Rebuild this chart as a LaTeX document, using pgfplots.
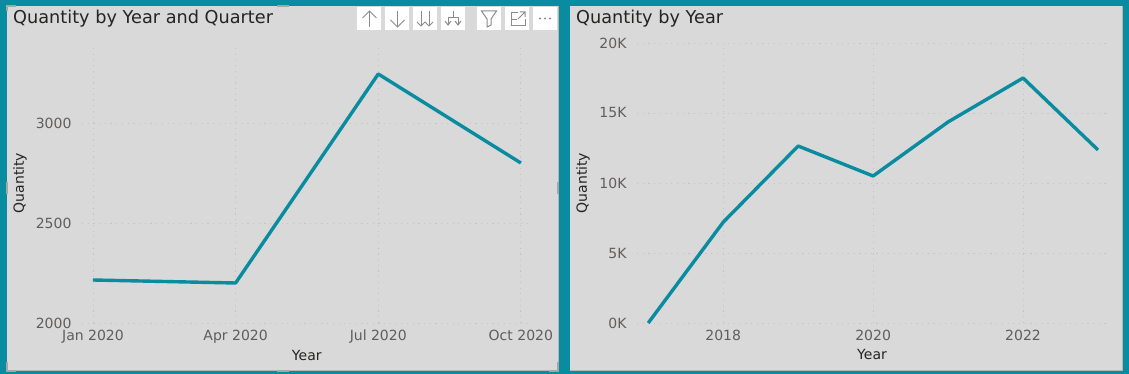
\documentclass[border=0pt]{standalone}
\usepackage{pgfplots}
\usepackage{fontspec}
\setmainfont{DejaVu Sans}
\pgfplotsset{compat=1.18}
\definecolor{teal0}{HTML}{0A8CA0}
\definecolor{panel}{HTML}{D9D9D9}
\definecolor{ticktxt}{HTML}{605E5C}
\definecolor{titletxt}{HTML}{252423}
\definecolor{gridc}{HTML}{C4C4C4}
\definecolor{handle}{HTML}{A6A6A6}
\pgfplotsset{panelaxis/.style={
  scale only axis,
  clip=false, tick style={draw=none}, major tick length=0pt,
  axis x line=bottom, axis y line=left, x axis line style={draw=none,-}, y axis line style={draw=none,-},
  xmajorgrids, ymajorgrids,
  grid style={gridc, line width=0.9pt, dash pattern=on 1.2pt off 4.5pt},
  scaled ticks=false,
  /pgf/number format/assume math mode=true,
  /pgf/number format/1000 sep={},
  tick label style={font=\fontsize{14}{16}\selectfont, text=ticktxt},
  xticklabel style={yshift=-3pt, text height=10.5pt, text depth=3pt},
  yticklabel style={xshift=-7pt},
  label style={font=\fontsize{14}{16}\selectfont, text=titletxt},
}}
\begin{document}
\begin{tikzpicture}[x=1pt,y=1pt]
\useasboundingbox (0,0) rectangle (1129,374);
\fill[teal0] (0,0) rectangle (1129,374);
\fill[panel] (7,3) rectangle (558,368);
\fill[panel] (570,3) rectangle (1122,368);
\draw[handle!70!panel, line width=1pt] (558,3) -- (558,368);
\draw[handle!70!panel, line width=1pt] (7,3) -- (558,3);
\draw[handle!70!panel, line width=1pt] (1122,3) -- (1122,368);
\draw[handle!70!panel, line width=1pt] (570,3) -- (1122,3);
% left chart
\begin{axis}[panelaxis, at={(82pt,51pt)}, anchor=south west, width=446pt, height=276pt,
  xmin=-0.077, xmax=3.05, ymin=2000, ymax=3380,
  xtick={0,1,2,3}, xticklabels={Jan 2020,Apr 2020,Jul 2020,Oct 2020},
  ytick={2000,2500,3000},
  xlabel={Year}, ylabel={Quantity},
  xlabel style={at={(rel axis cs:0.504,-0.116)}, anchor=center},
  ylabel style={at={(rel axis cs:-0.139,0.507)}, anchor=center},
]
\addplot[teal0, line width=3.4pt, line join=round] coordinates {(0,2215) (1,2200) (2,3245) (3,2800)};
\end{axis}
% right chart
\begin{axis}[panelaxis, at={(637pt,51pt)}, anchor=south west, width=470pt, height=280pt,
  xmin=2016.85, xmax=2023.12, ymin=0, ymax=20000,
  xtick={2018,2020,2022},
  xticklabels={2018,2020,2022},
  ytick={0,5000,10000,15000,20000},
  yticklabels={0K,5K,10K,15K,20K},
  xlabel={Year}, ylabel={Quantity},
  xlabel style={at={(rel axis cs:0.5,-0.114)}, anchor=center},
  ylabel style={at={(rel axis cs:-0.115,0.5)}, anchor=center},
]
\addplot[teal0, line width=3.4pt, line join=round] coordinates {(2017,0) (2018,7200) (2019,12640) (2020,10500) (2021,14360) (2022,17500) (2023,12360)};
\end{axis}
% titles
\node[anchor=west, text=titletxt, inner sep=0pt, font=\fontsize{17.7}{20}\selectfont] at (13,355.5) {Quantity by Year and Quarter};
\node[anchor=west, text=titletxt, inner sep=0pt, font=\fontsize{17.7}{20}\selectfont] at (576,355.5) {Quantity by Year};
% toolbar
\foreach \x in {357,385,413,441,477,505,533} \fill[white] (\x,344) rectangle +(24,23);
\begin{scope}[draw=gray!90, line width=1pt]
\draw (369.5,347) -- (369.5,363); \draw (362.5,356) -- (369.5,363) -- (376.5,356);
\draw (397.5,363) -- (397.5,347); \draw (390.5,354) -- (397.5,347) -- (404.5,354);
\draw (421,363) -- (421,348); \draw (417,352) -- (421,348) -- (425,352);
\draw (429,363) -- (429,348); \draw (425,352) -- (429,348) -- (433,352);
\draw (453,363) -- (453,356) (448,350) -- (448,356) -- (458,356) -- (458,350);
\draw (445,353) -- (448,349) -- (451,353) (455,353) -- (458,349) -- (461,353);
\draw (481.5,363) -- (496.5,363) -- (491,355) -- (491,349) -- (487,347) -- (487,355) -- cycle;
\draw (511,348) rectangle (525,361);
\fill[white] (518,355) rectangle (527,363);
\draw (518,355) -- (525,362) (520,362) -- (525,362) -- (525,357);
\draw (511,354) -- (517,354);
\fill[gray!90] (540,355.5) circle (1.1pt) (545,355.5) circle (1.1pt) (550,355.5) circle (1.1pt);
\end{scope}
% selection handles
\begin{scope}[draw=handle, line width=1.8pt]
\draw (7,363) -- (7,368) -- (16,368);
\draw (277,368) -- (289,368);
\draw (7,12) -- (7,3) -- (16,3);
\draw (277,3) -- (289,3);
\draw (549,3) -- (558,3) -- (558,12);
\draw (558,180) -- (558,192);
\draw (7,180) -- (7,192);
\end{scope}
\end{tikzpicture}
\end{document}
